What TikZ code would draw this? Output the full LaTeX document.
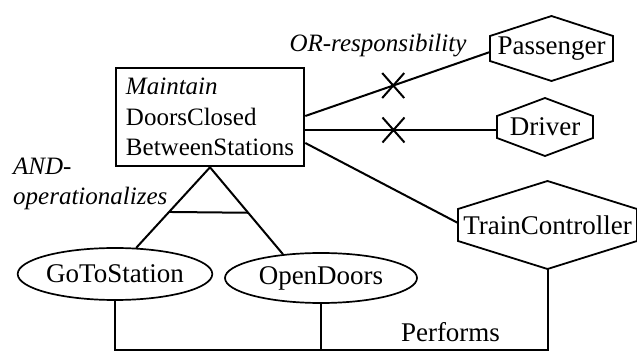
\documentclass[tikz,border=0pt]{standalone}
\usepackage{fontspec}
\setmainfont{Liberation Serif}
\usetikzlibrary{shapes.geometric,shapes.misc,calc}

% hexagon with pointed top and bottom: name, x, y, half width, half height, half side, text
\newcommand\hexnode[7]{%
  \node[agentlabel] (#1) at (#2,#3) {#7};
  \draw[agentline] (#2,#3-#5) -- (#2+#4,#3-#6) -- (#2+#4,#3+#6) -- (#2,#3+#5)
    -- (#2-#4,#3+#6) -- (#2-#4,#3-#6) -- cycle;
  \coordinate (#1-s) at (#2,#3+#5);
}

\tikzset{
  labelfont/.style={font=\fontsize{27}{32}\selectfont},
  goalbox/.style={draw, line width=2.6pt, rectangle, align=left, inner xsep=10pt,
    minimum width=184pt, minimum height=98pt, font=\fontsize{25}{30.5}\selectfont},
  agentlabel/.style={labelfont, inner sep=0pt},
  agentline/.style={line width=1.8pt, line join=miter},
  opgoal/.style={draw, ellipse, line width=1.7pt, inner sep=0pt, labelfont},
  conn/.style={line width=2pt},
  crossmark/.style={draw, cross out, line width=2pt, inner sep=0pt,
    minimum width=20pt, minimum height=23pt},
  slanted/.style={font=\fontsize{25}{30}\selectfont\itshape, inner sep=0pt},
}

\begin{document}
\begin{tikzpicture}[x=1pt, y=-1pt]
\useasboundingbox (0,0) rectangle (637,352);

% goal
\node[goalbox] (box) at (210,117) {\textit{Maintain}\\DoorsClosed\\BetweenStations};

% agents
\hexnode{pas}{551.5}{48.5}{61.5}{32.5}{12.5}{Passenger}
\hexnode{drv}{545}{127}{48}{29}{11}{Driver}
\hexnode{tc}{547.5}{225}{89.5}{44}{16}{TrainController}

% operations
\node[opgoal, minimum width=193pt, minimum height=52pt] (go) at (115,274) {GoToStation};
\node[opgoal, minimum width=192pt, minimum height=50pt] (od) at (321,278) {OpenDoors};

% responsibility links
\coordinate (boxP) at ($(box.east)+(0,-1)$);
\coordinate (boxD) at ($(box.east)+(0,13)$);
\coordinate (boxT) at ($(box.east)+(0,26)$);
\coordinate (pasIn) at (490,52);
\coordinate (drvIn) at (497,130);
\coordinate (tcIn) at (458,223);
\draw[conn] (boxP) -- node[crossmark, pos=0.476] (xp) {} (pasIn);
\draw[conn] (boxD) -- node[crossmark, pos=0.46] (xd) {} (drvIn);
\draw[conn] (boxT) -- (tcIn);
\node[slanted, anchor=base] (orlab) at (378,52) {OR-responsibility};

% AND-operationalization
\draw[conn] (box.south) -- (go.51);
\draw[conn] (box.south) -- (od.148);
\coordinate (barL) at ($(box.south)!0.555!(go.51)$);
\coordinate (barR) at ($(box.south)!0.523!(od.148)$);
\draw[conn] (barL) -- (barR);
\node[slanted, anchor=base west] (andA) at (13,175) {AND-};
\node[slanted, anchor=base west] (andB) at (13,205) {operationalizes};

% performance links
\coordinate (rail) at (0,350.5);
\draw[conn] (go.south) -- (go.south |- rail) -- (tc-s |- rail) -- (tc-s);
\draw[conn] (od.south) -- (od.south |- rail);
\node[labelfont, inner sep=0pt, anchor=base] (perf) at (450.5,342) {Performs};
\end{tikzpicture}
\end{document}
